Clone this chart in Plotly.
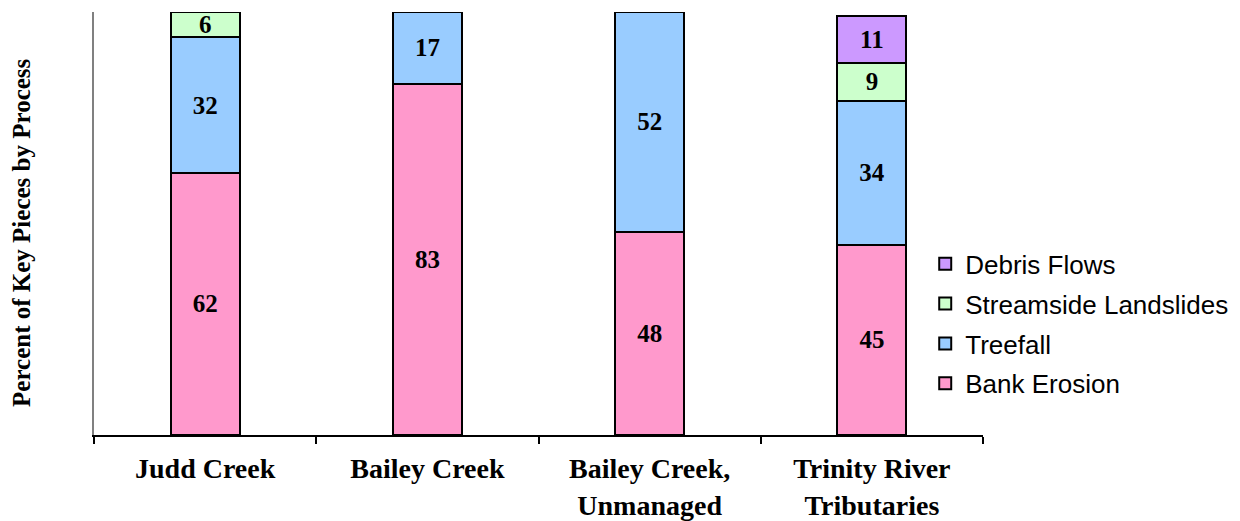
import plotly.graph_objects as go

categories = ["Judd Creek", "Bailey Creek", "Bailey Creek,<br>Unmanaged", "Trinity River<br>Tributaries"]
bank_erosion = [62, 83, 48, 45]
treefall = [32, 17, 52, 34]
streamside_landslides = [6, None, None, 9]
debris_flows = [None, None, None, 11]

series = [
    ("Bank Erosion", bank_erosion, "#FF99CC", 4),
    ("Treefall", treefall, "#99CCFF", 3),
    ("Streamside Landslides", streamside_landslides, "#CCFFCC", 2),
    ("Debris Flows", debris_flows, "#CC99FF", 1),
]

fig = go.Figure()
for name, vals, color, rank in series:
    fig.add_trace(go.Bar(
        name=name, x=categories, y=vals,
        marker=dict(color=color, line=dict(color="black", width=2)),
        text=[str(v) if v is not None else "" for v in vals],
        textposition="inside", insidetextanchor="middle", textangle=0,
        constraintext="none",
        textfont=dict(family="Liberation Serif", size=25, color="black", weight="bold"),
        width=0.31, legendgroup=name, legendrank=rank,
    ))

# page has an 8px body margin, so the figure is sized to fit the 1240x521 window
fig.update_layout(
    barmode="stack",
    width=1232, height=513,
    margin=dict(l=86, r=257, t=4, b=86, autoexpand=False),
    plot_bgcolor="white", paper_bgcolor="white",
    showlegend=True,
    legend=dict(
        x=0.935, xanchor="left", y=0.46, yanchor="top",
        traceorder="grouped", tracegroupgap=3, itemwidth=30,
        font=dict(family="Liberation Sans", size=26, color="black"),
        bgcolor="rgba(0,0,0,0)",
    ),
)
fig.update_xaxes(
    automargin=False,
    showline=True, linecolor="black", linewidth=1.5,
    ticks="outside", tickson="boundaries", ticklen=7, tickcolor="black", tickwidth=1.5,
    tickfont=dict(family="Liberation Serif", size=28, color="black", weight="bold"),
    ticklabelstandoff=8,
)
fig.update_yaxes(
    automargin=False,
    range=[0, 100], showgrid=False, zeroline=False, showticklabels=False,
    showline=True, linecolor="#808080", linewidth=2, ticks="",
)
fig.add_annotation(
    text="Percent of Key Pieces by Process", textangle=-90,
    xref="paper", yref="paper", x=-0.081, y=0.48, xanchor="center", yanchor="middle",
    showarrow=False,
    font=dict(family="Liberation Serif", size=25, color="black", weight="bold"),
)
fig.write_html("out.html")
